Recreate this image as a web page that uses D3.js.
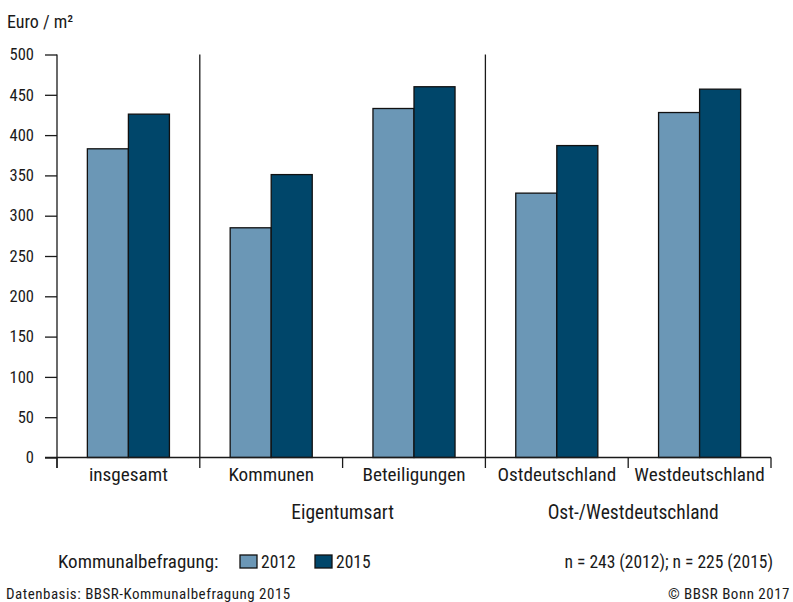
<!DOCTYPE html>
<html><head><meta charset="utf-8">
<script src="https://cdn.jsdelivr.net/npm/d3@7"></script>
<style>
body{margin:0;background:#fff;}
text{font-family:"Liberation Sans Narrow","Roboto Condensed","Arial Narrow",sans-serif;fill:#1a1a1a;}
</style></head><body>
<svg id="c" width="793" height="602"></svg>
<script>
const categories = ["insgesamt","Kommunen","Beteiligungen","Ostdeutschland","Westdeutschland"];
const seriesNames = ["2012","2015"];
const values2012 = [383, 285, 433, 328, 428];
const values2015 = [426, 351, 460, 387, 457];
const yTicks = [0,50,100,150,200,250,300,350,400,450,500];
const groups = [{label:"Eigentumsart", from:1, to:2},{label:"Ost-/Westdeutschland", from:3, to:4}];
const colors = ["#6b97b6","#00466a"];

const svg = d3.select("#c");
const x0 = 57, x1 = 771, yTop = 54.5, yBase = 457.5;
const x = d3.scaleBand().domain(categories).range([x0,x1]).paddingInner(0).paddingOuter(0);
const xs = d3.scaleBand().domain(seriesNames).range([0,x.bandwidth()]).paddingInner(0).paddingOuter(0.74);
const y = d3.scaleLinear().domain([0,500]).range([yBase,yTop]);
const ff = '"Liberation Sans Narrow","Roboto Condensed",sans-serif';

// y axis
const yAxis = d3.axisLeft(y).tickValues(yTicks).tickSize(12).tickPadding(11);
const ga = svg.append("g").attr("transform",`translate(${x0},0)`).call(yAxis);
ga.select(".domain").remove();
ga.selectAll(".tick line").attr("stroke","#1a1a1a").attr("stroke-width",1.3);
ga.selectAll(".tick text").attr("font-size",16.5).attr("fill","#1a1a1a").style("font-family",ff);
svg.append("line").attr("x1",x0).attr("x2",x0).attr("y1",y(500)).attr("y2",468).attr("stroke","#1a1a1a").attr("stroke-width",1.3);

// separators
[1,3].forEach(i=>{
  svg.append("line").attr("x1",x(categories[i])).attr("x2",x(categories[i])).attr("y1",y(500)).attr("y2",yBase).attr("stroke","#1a1a1a").attr("stroke-width",1.3);
});

// bars
const data = categories.map((c,i)=>({c, v:[values2012[i],values2015[i]]}));
const g = svg.append("g");
data.forEach(d=>{
  d.v.forEach((v,j)=>{
    g.append("rect").attr("x",x(d.c)+xs(seriesNames[j])).attr("width",xs.bandwidth())
     .attr("y",y(v)).attr("height",y(0)-y(v)).attr("fill",colors[j]).attr("stroke","#111").attr("stroke-width",1.3);
  });
});

// x axis
const xAxis = d3.axisBottom(x).tickSize(0).tickPadding(0);
const gx = svg.append("g").attr("transform",`translate(0,${yBase})`).call(xAxis);
gx.select(".domain").remove();
gx.selectAll(".tick text").attr("font-size",19.2).attr("fill","#1a1a1a").attr("y",23.5).attr("dy",0).style("font-family",ff);
svg.append("line").attr("x1",x0-12).attr("x2",x1).attr("y1",yBase).attr("y2",yBase).attr("stroke","#1a1a1a").attr("stroke-width",1.3);
categories.forEach(c=>{
  svg.append("line").attr("x1",x(c)).attr("x2",x(c)).attr("y1",yBase).attr("y2",468).attr("stroke","#1a1a1a").attr("stroke-width",1.3);
});
svg.append("line").attr("x1",x1).attr("x2",x1).attr("y1",yBase).attr("y2",468).attr("stroke","#1a1a1a").attr("stroke-width",1.3);

groups.forEach((gr,k)=>{
  const cx = (x(categories[gr.from]) + x(categories[gr.to])+x.bandwidth())/2 + (k===1?5:0);
  svg.append("text").attr("x",cx).attr("y",518.5).attr("text-anchor","middle").attr("font-size",19.5).text(gr.label);
});

svg.append("text").attr("x",7).attr("y",28).attr("font-size",18).text("Euro / m²");

// legend
const ly = 568;
svg.append("text").attr("x",58).attr("y",ly).attr("font-size",19).text("Kommunalbefragung:");
const lx = [240,315];
seriesNames.forEach((s,j)=>{
  svg.append("rect").attr("x",lx[j]).attr("y",ly-13).attr("width",17).attr("height",13).attr("fill",colors[j]).attr("stroke","#111").attr("stroke-width",1.3);
  svg.append("text").attr("x",lx[j]+21).attr("y",ly).attr("font-size",17.5).text(s);
});
svg.append("text").attr("x",773).attr("y",ly).attr("text-anchor","end").attr("font-size",17.5).text("n = 243 (2012); n = 225 (2015)");
svg.append("text").attr("x",6).attr("y",599).attr("font-size",15).attr("letter-spacing",0.5).text("Datenbasis: BBSR-Kommunalbefragung 2015");
svg.append("text").attr("x",790).attr("y",599).attr("text-anchor","end").attr("font-size",15).attr("letter-spacing",0.5).text("© BBSR Bonn 2017");
</script></body></html>
